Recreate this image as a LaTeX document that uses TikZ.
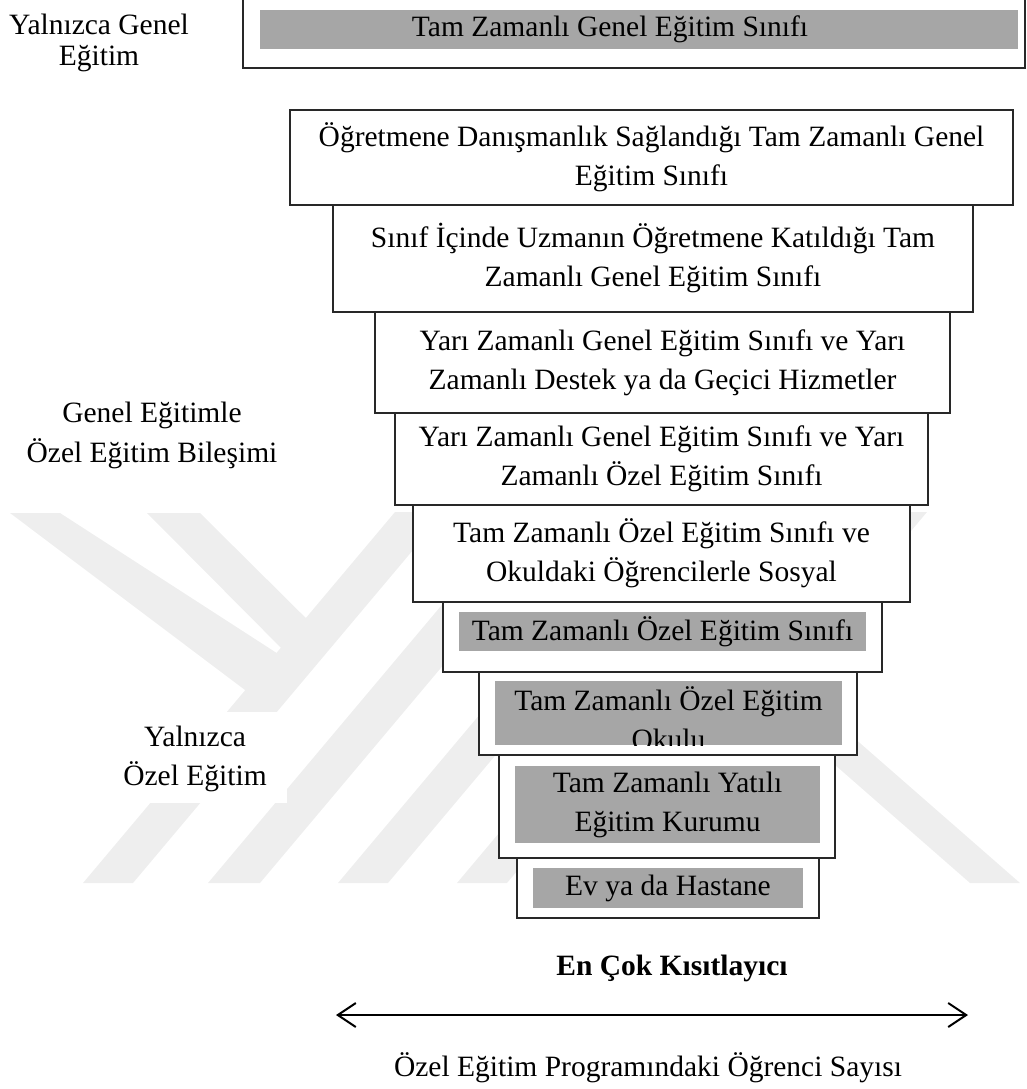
\documentclass[tikz,border=0pt]{standalone}
\usepackage{fontspec}
\setmainfont{Liberation Serif}
\usetikzlibrary{arrows.meta}
\definecolor{barGray}{RGB}{166,166,166}
\definecolor{wmGray}{RGB}{238,238,238}
\definecolor{edgeCol}{RGB}{40,40,40}
\newcommand\txtf{\fontsize{29.5}{39}\selectfont}
\begin{document}
\begin{tikzpicture}[x=1pt,y=-1pt,
  frame/.style={draw=edgeCol, line width=1.3pt, fill=white, inner sep=0pt, outer sep=0pt},
  bar/.style={fill=barGray, inner sep=0pt, outer sep=0pt},
  txt/.style={font=\txtf, align=center, inner sep=0pt},
  wm/.style={fill=wmGray, draw=none},
  axis/.style={line width=2pt, {Straight Barb[length=18pt,width=24pt,line width=2pt]}-{Straight Barb[length=18pt,width=24pt,line width=2pt]}}]
\useasboundingbox (0,0) rectangle (1027,1089);
% watermark
\fill[wm] (10,513) -- (60,513) -- (303,670) -- (245,690) -- cycle;
\fill[wm] (147,513) -- (200,513) -- (333,645) -- (303,670) -- cycle;
\fill[wm] (83,883) -- (133,883) -- (445,512) -- (395,512) -- cycle;
\fill[wm] (208,883) -- (260,883) -- (572,512) -- (520,512) -- cycle;
\fill[wm] (338,883) -- (388,883) -- (700,512) -- (650,512) -- cycle;
\fill[wm] (457,883) -- (507,883) -- (819,512) -- (769,512) -- cycle;
\fill[wm] (565,883) -- (615,883) -- (927,512) -- (877,512) -- cycle;
\fill[wm] (715,660) -- (765,660) -- (1020,883) -- (970,883) -- cycle;
% left labels
\node[txt, font=\fontsize{29.5}{31}\selectfont] (lg) at (99,43) {Yalnızca Genel\\Eğitim};
\node[txt, font=\fontsize{29.5}{40}\selectfont] (lc) at (152,435) {Genel Eğitimle\\Özel Eğitim Bileşimi};
\node[fill=white, minimum width=192pt, minimum height=91pt, inner sep=0pt] (lsbg) at (191,757.5) {};
\node[txt] (ls) at (195,759) {Yalnızca\\Özel Eğitim};
% box 1
\node[frame, minimum width=782pt, minimum height=73pt] (b1) at (634,31.5) {};
\node[bar, minimum width=758pt, minimum height=39pt] (g1) at (639,29.5) {};
\node[txt] (t1) at (610,29.5) {Tam Zamanlı Genel Eğitim Sınıfı};
% box 2
\node[frame, txt, minimum width=723pt, minimum height=95pt] (b2) at (651.5,157.5) {Öğretmene Danışmanlık Sağlandığı Tam Zamanlı Genel\\Eğitim Sınıfı};
% box 3
\node[frame, txt, minimum width=640pt, minimum height=107pt] (b3) at (653,258.5) {Sınıf İçinde Uzmanın Öğretmene Katıldığı Tam\\Zamanlı Genel Eğitim Sınıfı};
% box 4
\node[frame, txt, minimum width=575pt, minimum height=101pt] (b4) at (662.5,362.5) {Yarı Zamanlı Genel Eğitim Sınıfı ve Yarı\\Zamanlı Destek ya da Geçici Hizmetler};
% box 5
\node[frame, txt, minimum width=533pt, minimum height=92pt] (b5) at (661.5,459) {Yarı Zamanlı Genel Eğitim Sınıfı ve Yarı\\Zamanlı Özel Eğitim Sınıfı};
% box 6
\node[frame, txt, minimum width=497pt, minimum height=97pt] (b6) at (661.5,553.5) {Tam Zamanlı Özel Eğitim Sınıfı ve\\Okuldaki Öğrencilerle Sosyal};
% box 7
\node[frame, minimum width=439pt, minimum height=70pt] (b7) at (662.5,637) {};
\node[bar, txt, minimum width=407pt, minimum height=39pt] (g7) at (662.5,631.5) {Tam Zamanlı Özel Eğitim Sınıfı};
% box 8
\node[frame, minimum width=378pt, minimum height=83pt] (b8) at (668,713.5) {};
\node[bar, minimum width=347pt, minimum height=64pt] (g8) at (668.5,713) {};
\begin{scope}
\clip (g8.north west) rectangle (g8.south east);
\node[txt] (t8) at (668.5,718) {Tam Zamanlı Özel Eğitim\\Okulu};
\end{scope}
% box 9
\node[frame, minimum width=336pt, minimum height=103pt] (b9) at (667,806.5) {};
\node[bar, txt, minimum width=305pt, minimum height=77pt] (g9) at (667.5,804.5) {Tam Zamanlı Yatılı\\Eğitim Kurumu};
% box 10
\node[frame, minimum width=302pt, minimum height=60pt] (b10) at (668,888) {};
\node[bar, txt, minimum width=270pt, minimum height=40pt] (g10) at (668,888) {Ev ya da Hastane};
% bottom
\node[txt, font=\fontsize{29.5}{39}\selectfont\bfseries] (mr) at (672,968) {En Çok Kısıtlayıcı};
\coordinate (aL) at (336,1015);
\coordinate (aR) at (968,1015);
\draw[axis] (aL) -- (aR);
\node[txt] (ns) at (648,1068) {Özel Eğitim Programındaki Öğrenci Sayısı};
\end{tikzpicture}
\end{document}
